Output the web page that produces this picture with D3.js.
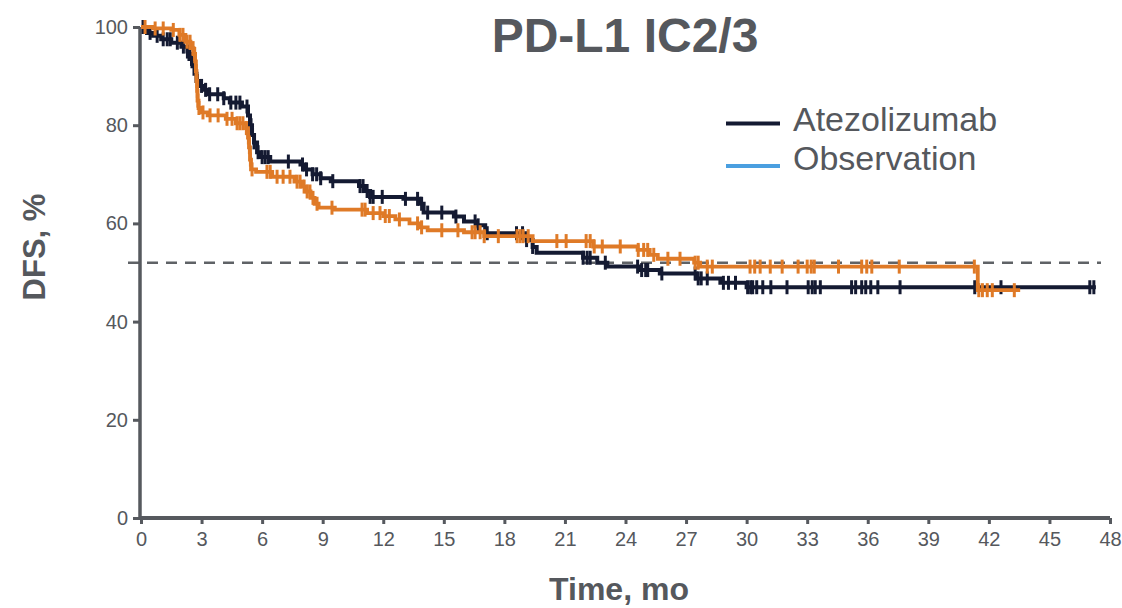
<!DOCTYPE html>
<html>
<head>
<meta charset="utf-8">
<script src="https://cdn.jsdelivr.net/npm/d3@7"></script>
<style>
  html, body { margin: 0; padding: 0; background: #ffffff; }
  svg { display: block; }
  text { font-family: "Liberation Sans", Arial, sans-serif; }
</style>
</head>
<body>
<svg id="chart" width="1122" height="608"></svg>
<script>
// ---------------- data ----------------
const title = "PD-L1 IC2/3";
const xLabel = "Time, mo";
const yLabel = "DFS, %";
const xTicks = [0, 3, 6, 9, 12, 15, 18, 21, 24, 27, 30, 33, 36, 39, 42, 45, 48];
const yTicks = [0, 20, 40, 60, 80, 100];
const seriesNames = ["Atezolizumab", "Observation"];
const referenceLevel = 52;

// Atezolizumab: step times (months) and survival after each step (%)
const atezoTimes = [0, 0.3, 0.6, 1.0, 1.5, 2.0, 2.3, 2.4, 2.55, 2.65, 2.75, 2.9, 3.1, 3.3, 4.1, 4.4, 5.0, 5.3, 5.4, 5.5, 5.6, 5.75, 5.9, 6.4, 7.9, 8.1, 8.5, 8.9, 9.4, 10.8, 11.1, 11.35, 13.0, 13.8, 14.0, 15.5, 16.0, 16.6, 17.05, 19.1, 19.4, 19.6, 21.9, 22.6, 23.1, 24.7, 25.7, 27.5, 28.7, 30.0];
const atezoSurv  = [100, 98.8, 98.2, 97.5, 96.8, 96.0, 95.0, 93.5, 92.0, 90.5, 89.0, 88.0, 87.2, 86.3, 85.5, 84.6, 83.8, 82.0, 80.0, 78.0, 76.5, 74.5, 73.5, 72.6, 72.0, 71.0, 70.0, 69.2, 68.6, 67.6, 66.6, 65.4, 65.0, 64.0, 62.2, 61.4, 60.4, 59.6, 58.0, 56.6, 55.2, 54.0, 53.0, 52.0, 51.2, 50.5, 49.8, 48.8, 47.9, 47.0];
const atezoEnd = 47.3;
const atezoCensor = [0.1, 0.45, 0.8, 1.1, 1.3, 1.45, 1.8, 2.1, 2.3, 2.5, 2.8, 3.0, 3.2, 3.4, 3.8, 4.1, 4.45, 4.7, 4.9, 5.25, 5.45, 5.6, 5.8, 6.0, 6.15, 6.3, 7.3, 8.0, 8.2, 8.5, 8.7, 8.9, 9.5, 10.85, 11.0, 11.2, 11.35, 11.5, 11.95, 13.1, 13.7, 13.9, 14.2, 14.9, 15.6, 16.55, 16.7, 17.15, 18.6, 18.9, 19.1, 19.4, 21.9, 22.1, 22.25, 23.0, 24.6, 24.8, 25.0, 25.1, 25.8, 27.45, 27.6, 27.75, 28.05, 28.85, 29.1, 29.45, 30.05, 30.2, 30.3, 30.5, 30.8, 31.2, 32.0, 33.05, 33.25, 33.4, 33.65, 35.2, 35.4, 35.7, 35.9, 36.15, 36.5, 37.6, 41.3, 42.6, 47.0, 47.2];

// Observation
const obsTimes = [0, 0.6, 1.5, 1.9, 2.2, 2.45, 2.6, 2.68, 2.72, 2.75, 2.78, 2.8, 2.85, 2.95, 3.3, 4.2, 4.7, 5.2, 5.3, 5.35, 5.4, 5.45, 5.7, 6.5, 7.6, 8.0, 8.2, 8.4, 8.6, 8.8, 9.6, 11.2, 12.0, 12.6, 13.3, 13.8, 14.2, 16.0, 17.0, 19.4, 22.4, 24.6, 25.2, 25.6, 27.4, 27.7, 41.45];
const obsSurv  = [100, 99.7, 99.4, 98.4, 97.0, 95.7, 94.5, 93.0, 91.0, 89.0, 87.0, 85.0, 83.5, 82.6, 82.0, 81.3, 80.4, 79.4, 77.5, 75.5, 73.0, 71.0, 70.5, 69.5, 68.5, 67.5, 66.5, 65.2, 64.0, 63.2, 62.8, 62.1, 61.5, 60.8, 60.0, 59.2, 58.6, 58.2, 57.4, 56.4, 55.3, 54.6, 53.6, 52.8, 52.0, 51.2, 46.4];
const obsEnd = 43.55;
const obsCensor = [0.2, 0.7, 1.1, 1.6, 1.93, 2.08, 2.28, 2.43, 2.58, 2.66, 2.7, 2.74, 2.77, 2.79, 2.82, 2.87, 3.07, 3.42, 3.82, 4.26, 4.51, 4.76, 4.9, 5.05, 5.22, 5.32, 5.37, 5.42, 5.5, 6.24, 6.4, 6.74, 7.04, 7.38, 7.73, 7.88, 8.08, 8.23, 8.37, 8.52, 8.72, 9.46, 10.95, 11.1, 11.5, 11.84, 12.1, 12.3, 12.8, 13.7, 13.9, 14.9, 15.7, 16.4, 16.55, 16.8, 17.0, 17.7, 18.63, 18.78, 18.93, 19.18, 20.6, 21.06, 22.05, 22.25, 22.45, 22.85, 23.74, 24.63, 24.9, 25.1, 25.4, 26.1, 26.7, 27.45, 27.6, 28.05, 28.3, 30.17, 30.4, 30.67, 31.17, 31.76, 32.55, 33.0, 33.2, 33.35, 34.55, 35.7, 35.95, 36.2, 37.56, 41.28, 41.5, 41.68, 41.92, 42.17, 43.26];

// ---------------- drawing ----------------
const colors = { atezo: "#141a32", obs: "#df7a27", obsLegend: "#4a9fe0", axis: "#56595e", text: "#55585d", ref: "#5f6266" };

const svg = d3.select("#chart");
const x = d3.scaleLinear().domain([0, 48]).range([141, 1110]);
const y = d3.scaleLinear().domain([0, 100]).range([518, 27]);

// reference dashed line
svg.append("line")
  .attr("x1", 128).attr("x2", 1101)
  .attr("y1", y(referenceLevel)).attr("y2", y(referenceLevel))
  .attr("stroke", colors.ref).attr("stroke-width", 2.5)
  .attr("stroke-dasharray", "11,8");

// axes
const yAxis = d3.axisLeft(y).tickValues(yTicks).tickSize(7).tickPadding(5);
const gy = svg.append("g").attr("transform", "translate(140,0)").call(yAxis);
gy.select(".domain").attr("stroke", colors.axis).attr("stroke-width", 3.5).attr("d", `M0,${y(100)}V${y(0)}`);
gy.selectAll(".tick line").attr("stroke", colors.axis).attr("stroke-width", 3);
gy.selectAll(".tick text").attr("fill", colors.text).style("font-size", "20px").style("font-family", "Liberation Sans, Arial, sans-serif");

const xAxis = d3.axisBottom(x).tickValues(xTicks).tickSize(6).tickPadding(8);
const gx = svg.append("g").attr("transform", "translate(0,518)").call(xAxis);
gx.select(".domain").attr("stroke", colors.axis).attr("stroke-width", 4).attr("d", `M139,0H${x(48)}`);
gx.selectAll(".tick line").attr("stroke", colors.axis).attr("stroke-width", 3);
gx.selectAll(".tick text").attr("fill", colors.text).style("font-size", "20px").style("font-family", "Liberation Sans, Arial, sans-serif");

// step curves
function stepPoints(times, surv, end) {
  const pts = times.map((t, i) => [t, surv[i]]);
  pts.push([end, surv[surv.length - 1]]);
  return pts;
}
function survAt(times, surv, t) {
  let s = surv[0];
  for (let i = 0; i < times.length; i++) { if (times[i] <= t) s = surv[i]; }
  return s;
}
const line = d3.line().x(d => x(d[0])).y(d => y(d[1])).curve(d3.curveStepAfter);

function drawSeries(times, surv, end, censor, color, width) {
  const g = svg.append("g");
  g.append("path").datum(stepPoints(times, surv, end))
    .attr("d", line).attr("fill", "none").attr("stroke", color)
    .attr("stroke-width", width).attr("stroke-linejoin", "miter");
  g.selectAll("line.c").data(censor).enter().append("line")
    .attr("class", "c")
    .attr("x1", d => x(d)).attr("x2", d => x(d))
    .attr("y1", d => y(survAt(times, surv, d)) - 7)
    .attr("y2", d => y(survAt(times, surv, d)) + 7)
    .attr("stroke", color).attr("stroke-width", 3);
}
drawSeries(atezoTimes, atezoSurv, atezoEnd, atezoCensor, colors.atezo, 4);
drawSeries(obsTimes, obsSurv, obsEnd, obsCensor, colors.obs, 3.8);

// title
svg.append("text").attr("x", 625).attr("y", 52).attr("text-anchor", "middle")
  .attr("fill", colors.text).style("font-size", "48px").style("font-weight", "bold")
  .text(title);

// axis titles
svg.append("text").attr("transform", "translate(45,247) rotate(-90)").attr("text-anchor", "middle")
  .attr("fill", colors.text).style("font-size", "31px").style("font-weight", "bold")
  .text(yLabel);
svg.append("text").attr("x", 619).attr("y", 600).attr("text-anchor", "middle")
  .attr("fill", colors.text).style("font-size", "32px").style("font-weight", "bold")
  .text(xLabel);

// legend
const legend = svg.append("g");
const legendRows = [
  { name: seriesNames[0], color: colors.atezo, ly: 123.5, ty: 130.5 },
  { name: seriesNames[1], color: colors.obsLegend, ly: 166, ty: 170 }
];
legendRows.forEach(r => {
  legend.append("line").attr("x1", 726).attr("x2", 780).attr("y1", r.ly).attr("y2", r.ly)
    .attr("stroke", r.color).attr("stroke-width", 4);
  legend.append("text").attr("x", 793).attr("y", r.ty).attr("fill", colors.text)
    .style("font-size", "34px").text(r.name);
});
</script>
</body>
</html>
